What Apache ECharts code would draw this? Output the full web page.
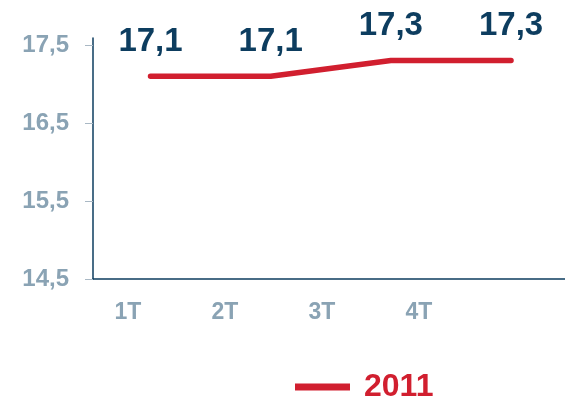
<!DOCTYPE html>
<html>
<head>
<meta charset="utf-8">
<script src="https://cdn.jsdelivr.net/npm/echarts@6/dist/echarts.min.js"></script>
<style>html,body{margin:0;padding:0;background:#fff}#c{width:565px;height:400px}</style>
</head>
<body>
<div id="c"></div>
<script>
const categories = ['1T', '2T', '3T', '4T'];
const values2011 = [17.1, 17.1, 17.3, 17.3];
const seriesName = '2011';
const yMin = 14.5, yMax = 17.5, yStep = 1;

const chart = echarts.init(document.getElementById('c'), null, {renderer: 'canvas'});
const font = 'Liberation Sans, Arial, sans-serif';
const navy = '#0d3d5f';
const grey = '#8aa3b4';
const red = '#d11f2f';

chart.setOption({
  animation: false,
  legend: {
    data: [seriesName],
    left: 290, top: 366,
    icon: 'rect', itemWidth: 55, itemHeight: 7,
    textStyle: {color: red, fontSize: 32, fontWeight: 'bold', fontFamily: font, padding: [0, 0, 0, 9]}
  },
  grid: [
    {left: 93, right: 0, top: 45, bottom: 121},
    {left: 93, right: 0, top: 38, bottom: 121},
    {left: 79.5, width: 388, top: 38, bottom: 121}
  ],
  xAxis: [
    {type: 'value', gridIndex: 0, min: -0.4785, max: 3.449,
     axisLine: {show: true, onZero: false, lineStyle: {color: navy, width: 1.5}},
     axisTick: {show: false}, axisLabel: {show: false}, splitLine: {show: false}},
    {type: 'value', gridIndex: 1, show: false},
    {type: 'category', gridIndex: 2, data: categories, boundaryGap: true,
     axisLine: {show: false}, axisTick: {show: false}, splitLine: {show: false},
     axisLabel: {margin: 22, color: grey, fontSize: 23, fontWeight: 'bold', fontFamily: font}}
  ],
  yAxis: [
    {type: 'value', gridIndex: 0, min: yMin, max: yMax, interval: yStep,
     axisLine: {show: false, onZero: false},
     axisTick: {show: true, length: 8, lineStyle: {color: '#a9b8c4', width: 1}},
     splitLine: {show: false},
     axisLabel: {margin: 24, color: grey, fontSize: 24, fontWeight: 'bold', fontFamily: font,
       formatter: v => v.toFixed(1).replace('.', ',')}},
    {type: 'value', gridIndex: 1, min: 0, max: 1,
     axisLine: {show: true, onZero: false, lineStyle: {color: navy, width: 1.5}},
     axisTick: {show: false}, axisLabel: {show: false}, splitLine: {show: false}},
    {type: 'value', gridIndex: 2, show: false}
  ],
  series: [{
    name: seriesName, type: 'line', xAxisIndex: 0, yAxisIndex: 0,
    data: categories.map((c, i) => [i, values2011[i]]),
    symbol: 'circle', symbolSize: 2, showSymbol: true,
    lineStyle: {color: red, width: 5.5, cap: 'round', join: 'round'},
    itemStyle: {color: red},
    label: {show: true, position: 'top', distance: 17, color: navy, fontSize: 33, fontWeight: 'bold', fontFamily: font,
      formatter: p => p.value[1].toFixed(1).replace('.', ',')}
  }]
});
</script>
</body>
</html>
